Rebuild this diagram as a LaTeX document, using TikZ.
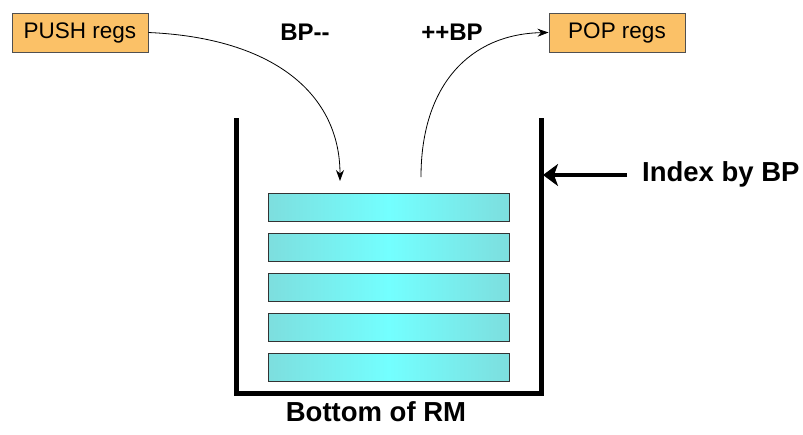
\documentclass[tikz,border=0pt]{standalone}
\usepackage{fontspec}
\setmainfont{Liberation Sans}
\usetikzlibrary{arrows.meta}
\definecolor{boxorange}{RGB}{251,193,103}
\definecolor{boxedge}{RGB}{80,80,80}
\definecolor{barmid}{RGB}{115,255,255}
\definecolor{baredge}{RGB}{125,222,222}
\tikzset{
  regbox/.style={draw=boxedge, line width=1pt, fill=boxorange, minimum width=136pt, minimum height=39pt, inner sep=0pt, font=\fontsize{22.5}{22.5}\selectfont},
  boldlabel/.style={font=\fontsize{24}{24}\selectfont\bfseries, inner sep=0pt},
  biglabel/.style={font=\fontsize{27.5}{27.5}\selectfont\bfseries, inner sep=0pt},
  bar/.style={draw=black!80, line width=1pt, left color=baredge, right color=baredge, middle color=barmid, minimum width=241pt, minimum height=28pt, inner sep=0pt},
  wall/.style={line width=5pt, line cap=butt, line join=miter},
  flow/.style={line width=0.8pt, -{Stealth[length=11pt,width=8pt]}},
  pointer/.style={line width=4.5pt, -{Stealth[length=15pt,width=22pt,inset=4pt]}}
}
\begin{document}
\begin{tikzpicture}[x=1pt,y=-1pt]
\useasboundingbox (0,0) rectangle (803,434);
\node[regbox] (push) at (80,32.5) {PUSH regs};
\node[regbox] (pop) at (617,32.5) {POP regs};
\node[boldlabel] (dec) at (305,32) {BP{-}{-}};
\node[boldlabel] (inc) at (452,32) {++BP};
% container
\draw[wall] (236,118) -- (236,393) -- (541,393) -- (541,118);
\coordinate (wallr) at (543,175);
\node[bar] (b1) at (388.5,207) {};
\node[bar] (b2) at (388.5,247) {};
\node[bar] (b3) at (388.5,287) {};
\node[bar] (b4) at (388.5,327) {};
\node[bar] (b5) at (388.5,367) {};
\coordinate (pushend) at (340,181);
\coordinate (popstart) at (421,177);
\draw[flow] (push.east) .. controls (275,38) and (340,95) .. (pushend);
\draw[flow] (popstart) .. controls (421,85) and (470,34) .. (pop.west);
\node[biglabel, anchor=west] (idx) at (642,174) {Index by BP};
\draw[pointer] (idx.west) ++(-15,1) coordinate (ptail) (ptail) -- (wallr);
\node[biglabel] (bot) at (376,412) {Bottom of RM};
\end{tikzpicture}
\end{document}
